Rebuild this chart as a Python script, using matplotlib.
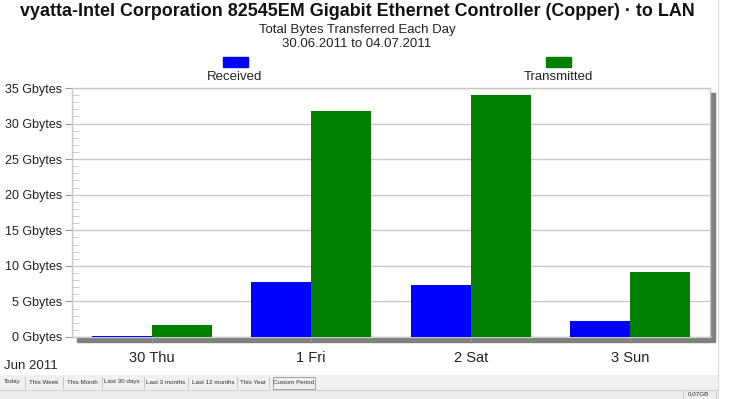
import numpy as np
import matplotlib.pyplot as plt
from matplotlib.patches import Rectangle
from matplotlib.ticker import MultipleLocator, FuncFormatter

plt.rcParams['font.family'] = ['Liberation Sans', 'DejaVu Sans']

# Data (Gbytes per day)
days = ['30 Thu', '1 Fri', '2 Sat', '3 Sun']
received = [0.15, 7.67, 7.25, 2.24]
transmitted = [1.7, 31.7, 34.0, 9.13]
series_names = ['Received', 'Transmitted']
series_colors = ['#0000ff', '#008000']
buttons = ['Today', 'This Week', 'This Month', 'Last 30 days', 'Last 3 months',
           'Last 12 months', 'This Year', 'Custom Period']

W, H = 730, 399
fig = plt.figure(figsize=(W / 100, H / 100), dpi=100)


def fx(px):
    return px / W


def fy(py):
    return 1 - py / H


# plot area in pixels
left, right, top, bottom = 72, 710, 88, 337
ax = fig.add_axes([fx(left), fy(bottom), fx(right - left), (bottom - top) / H])

# drop shadow behind the plot area
fig.patches.append(Rectangle((fx(left + 5), fy(bottom + 5)), fx(right - left), (bottom - top) / H,
                             transform=fig.transFigure, color='#808080', zorder=-1))

x = np.arange(len(days))
w = 0.377
ax.bar(x - w, received, w, align='edge', color=series_colors[0], zorder=3)
ax.bar(x, transmitted, w, align='edge', color=series_colors[1], zorder=3)

ax.set_xlim(-0.5, 3.5)
ax.set_ylim(0, 35)
ax.set_xticks(x)
ax.set_xticklabels(days, fontsize=10.5, color='#222222')
ax.yaxis.set_major_locator(MultipleLocator(5))
ax.yaxis.set_minor_locator(MultipleLocator(1))
ax.yaxis.set_major_formatter(FuncFormatter(lambda v, p: f'{int(v)} Gbytes'))
ax.tick_params(axis='y', which='major', direction='out', length=5, color='#999999',
               labelsize=9, labelcolor='#222222', pad=2)
ax.tick_params(axis='y', which='minor', direction='in', length=5, color='#c4c4c4')
ax.tick_params(axis='x', direction='out', length=4, color='#999999', pad=6)
ax.grid(axis='y', which='major', color='#c8c8c8', linewidth=1, zorder=0)
ax.set_axisbelow(True)
for s in ax.spines.values():
    s.set_color('#c8c8c8')
    s.set_linewidth(1)

# titles
cx_title = fx(357)
fig.text(cx_title, fy(11), 'vyatta-Intel Corporation 82545EM Gigabit Ethernet Controller (Copper) \u00b7 to LAN',
         ha='center', va='center', fontsize=12.9, fontweight='bold', color='#111111')
fig.text(cx_title, fy(29.5), 'Total Bytes Transferred Each Day', ha='center', va='center', fontsize=9.5, color='#222222')
fig.text(cx_title, fy(44), '30.06.2011 to 04.07.2011', ha='center', va='center', fontsize=9.5, color='#222222')

# legend
for name, col, cx in zip(series_names, series_colors, [235, 558]):
    fig.patches.append(Rectangle((fx(cx - 12), fy(67)), fx(25), 10 / H,
                                 transform=fig.transFigure, color=col))
    fig.text(fx(cx), fy(77), name, ha='center', va='center', fontsize=9.5, color='#222222')

fig.text(fx(4), fy(366), 'Jun 2011', ha='left', va='center', fontsize=9.5, color='#222222')

# toolbar and status bar
fig.patches.append(Rectangle((0, fy(390)), fx(718), 15 / H, transform=fig.transFigure,
                             color='#f0f0f0', zorder=-2))
fig.patches.append(Rectangle((0, 0), fx(718), 9 / H, transform=fig.transFigure,
                             color='#ececec', zorder=-2))
fig.add_artist(plt.Line2D([0, fx(718)], [fy(390), fy(390)], transform=fig.transFigure,
                          color='#d0d0d0', linewidth=0.8))
fig.add_artist(plt.Line2D([fx(718), fx(718)], [0, 1], transform=fig.transFigure,
                          color='#d8d8d8', linewidth=0.8))
btn_x = [12, 44, 82, 122, 166, 213, 253, 294]
seps = [25, 63, 102, 144, 188, 237, 269]
for bx, b in zip(btn_x, buttons):
    fig.text(fx(bx), fy(382), b, ha='center', va='center', fontsize=4.5, color='#333333')
for sx in seps:
    fig.add_artist(plt.Line2D([fx(sx), fx(sx)], [fy(388), fy(377)], transform=fig.transFigure,
                              color='#c8c8c8', linewidth=0.7))
fig.patches.append(Rectangle((fx(273), fy(389)), fx(42), 12 / H, transform=fig.transFigure,
                             facecolor='none', edgecolor='#a0a0a0', linewidth=0.7))
fig.patches.append(Rectangle((fx(683), fy(399)), fx(33), 9 / H, transform=fig.transFigure,
                             facecolor='none', edgecolor='#c8c8c8', linewidth=0.7))
fig.text(fx(698), fy(394), '0,07GB', ha='center', va='center', fontsize=4.5, color='#333333')

fig.savefig('out.png', dpi=100)
